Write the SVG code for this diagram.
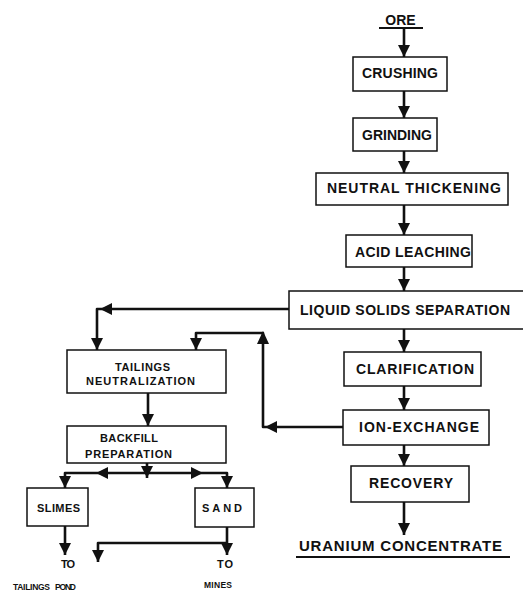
<svg xmlns="http://www.w3.org/2000/svg" width="523" height="593" viewBox="0 0 523 593">
  <style>
    .box { fill: #fff; stroke: #111; stroke-width: 1.5; }
    .t { font-family: "Liberation Sans", Arial, sans-serif; font-weight: bold; fill: #111; }
    .lg { font-size: 14px; }
    .sm { font-size: 11px; }
    .xs { font-size: 8.5px; }
    .ln { fill: none; stroke: #111; stroke-width: 2.6; stroke-linejoin: round; }
    .ul { stroke: #111; stroke-width: 2; }
    .head { fill: #111; }
  </style>
  <defs>
    <marker id="arr" viewBox="0 0 12 12" refX="12" refY="6" markerWidth="12" markerHeight="12" markerUnits="userSpaceOnUse" orient="auto">
      <path d="M0,0 L12,6 L0,12 z" fill="#111"/>
    </marker>
  </defs>

  <rect width="523" height="593" fill="#fff"/>

  <!-- connectors -->
  <g id="connectors">
    <path class="ln" d="M404,28 V57" marker-end="url(#arr)"/>
    <path class="ln" d="M404,91 V118" marker-end="url(#arr)"/>
    <path class="ln" d="M404,151 V173" marker-end="url(#arr)"/>
    <path class="ln" d="M404,205 V235" marker-end="url(#arr)"/>
    <path class="ln" d="M404,267 V291" marker-end="url(#arr)"/>
    <path class="ln" d="M404,329 V352" marker-end="url(#arr)"/>
    <path class="ln" d="M404,386 V410" marker-end="url(#arr)"/>
    <path class="ln" d="M404,445 V466" marker-end="url(#arr)"/>
    <path class="ln" d="M404,502 V535" marker-end="url(#arr)"/>
    <!-- solids to tailings neutralization -->
    <path class="ln" d="M289,309 H97 V350" marker-end="url(#arr)"/>
    <polygon class="head" points="100,309 112,303 112,315"/>
    <!-- barren solution return -->
    <path class="ln" d="M343,427 H263 V333 H196 V350" marker-end="url(#arr)"/>
    <polygon class="head" points="265,427 277,421 277,433"/>
    <polygon class="head" points="263,331 257,344 269,344"/>
    <!-- tailings to backfill -->
    <path class="ln" d="M148,393 V426" marker-end="url(#arr)"/>
    <!-- backfill split -->
    <path class="ln" d="M147,463 V478" marker-end="url(#arr)"/>
    <path class="ln" d="M147,473 H227 V488" marker-end="url(#arr)"/>
    <path class="ln" d="M147,473 H65 V488" marker-end="url(#arr)"/>
    <polygon class="head" points="96,473 108,467 108,479"/>
    <polygon class="head" points="203,473 191,467 191,479"/>
    <!-- outlets -->
    <path class="ln" d="M65,526 V555" marker-end="url(#arr)"/>
    <path class="ln" d="M227,527 V555" marker-end="url(#arr)"/>
    <path class="ln" d="M227,543 H98 V562" marker-end="url(#arr)"/>
  </g>

  <g id="ore">
    <text class="t lg" x="400.5" y="25" text-anchor="middle">ORE</text>
    <line class="ul" x1="379" y1="28" x2="423" y2="28"/>
  </g>

  <g id="crushing">
    <rect class="box" x="353" y="57" width="94" height="34"/>
    <text class="t lg" x="362" y="78" textLength="76">CRUSHING</text>
  </g>

  <g id="grinding">
    <rect class="box" x="353" y="118" width="84" height="33"/>
    <text class="t lg" x="362" y="140" textLength="70">GRINDING</text>
  </g>

  <g id="neutral-thickening">
    <rect class="box" x="316" y="173" width="192" height="32"/>
    <text class="t lg" x="327" y="193" textLength="174">NEUTRAL THICKENING</text>
  </g>

  <g id="acid-leaching">
    <rect class="box" x="346" y="235" width="126" height="32"/>
    <text class="t lg" x="355" y="257" textLength="116">ACID LEACHING</text>
  </g>

  <g id="liquid-solids-separation">
    <rect class="box" x="289" y="291" width="240" height="38"/>
    <text class="t lg" x="300" y="315" textLength="210">LIQUID SOLIDS SEPARATION</text>
  </g>

  <g id="clarification">
    <rect class="box" x="344" y="352" width="137" height="34"/>
    <text class="t lg" x="356" y="374" textLength="118">CLARIFICATION</text>
  </g>

  <g id="ion-exchange">
    <rect class="box" x="343" y="410" width="146" height="35"/>
    <text class="t lg" x="359" y="432" textLength="120">ION-EXCHANGE</text>
  </g>

  <g id="recovery">
    <rect class="box" x="351" y="466" width="118" height="36"/>
    <text class="t lg" x="369" y="488" textLength="84">RECOVERY</text>
  </g>

  <g id="uranium-concentrate">
    <text class="t lg" x="299" y="551" textLength="203" style="font-size:15px">URANIUM CONCENTRATE</text>
    <line class="ul" x1="296" y1="557" x2="510" y2="557"/>
  </g>

  <g id="tailings-neutralization">
    <rect class="box" x="67" y="350" width="159" height="43"/>
    <text class="t sm" x="115" y="371" textLength="55">TAILINGS</text>
    <text class="t sm" x="86" y="385" textLength="109">NEUTRALIZATION</text>
  </g>

  <g id="backfill-preparation">
    <rect class="box" x="67" y="426" width="159" height="37"/>
    <text class="t sm" x="100" y="442" textLength="58">BACKFILL</text>
    <text class="t sm" x="85" y="458" textLength="87">PREPARATION</text>
  </g>

  <g id="slimes">
    <rect class="box" x="27" y="488" width="61" height="38"/>
    <text class="t sm" x="37" y="512" textLength="43">SLIMES</text>
  </g>

  <g id="sand">
    <rect class="box" x="195" y="488" width="59" height="39"/>
    <text class="t sm" x="202" y="512" textLength="41" style="letter-spacing:1px">SAND</text>
  </g>

  <g id="tailings-pond">
    <text class="t sm" x="61" y="568" textLength="14">TO</text>
    <text class="t xs" x="13" y="590" textLength="37">TAILINGS</text>
    <text class="t xs" x="55" y="590" textLength="21">POND</text>
  </g>

  <g id="mines">
    <text class="t sm" x="217" y="568" textLength="16">TO</text>
    <text class="t xs" x="204" y="588" textLength="28">MINES</text>
  </g>
</svg>
